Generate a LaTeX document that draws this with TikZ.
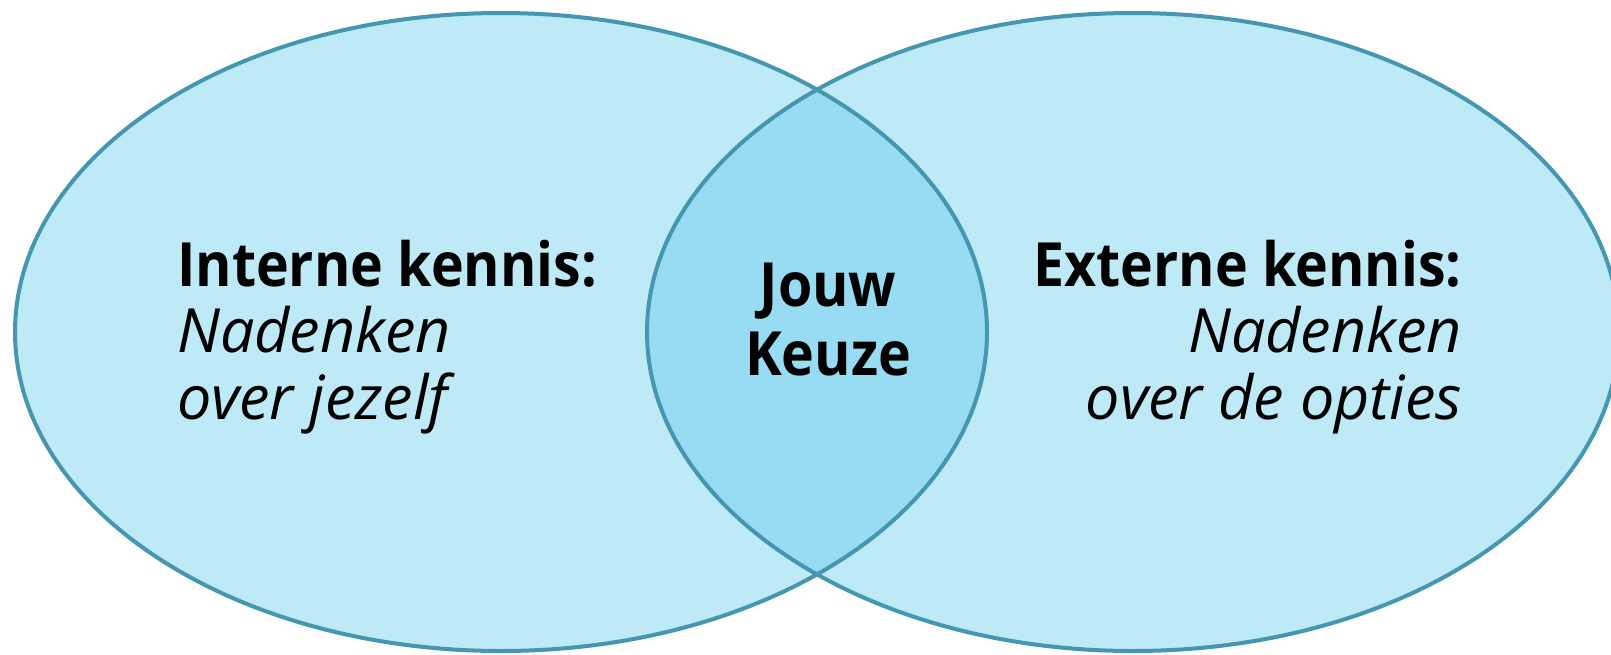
\documentclass[tikz,border=0pt]{standalone}
\usepackage{fontspec}
\setmainfont{Open Sans}
\newfontfamily\narrowsans[FakeStretch=0.91]{Open Sans}
\definecolor{lightfill}{RGB}{190,233,247}
\definecolor{midfill}{RGB}{151,220,242}
\definecolor{edgeblue}{RGB}{69,150,176}
\begin{document}
\begin{tikzpicture}[x=1pt,y=-1pt,
  venn/.style={x radius=486pt, y radius=319pt},
  outline/.style={draw=edgeblue, line width=4pt},
  txt/.style={inner sep=0pt, font=\fontsize{61}{66}\selectfont, text=black},
  head/.style={txt, font=\fontsize{61}{66}\selectfont\narrowsans\bfseries}]
\useasboundingbox (0,0) rectangle (1611,654);
\clip (0,0) rectangle (1611,654);
\coordinate (L) at (501,332);
\coordinate (R) at (1133,332);
\fill[lightfill] (L) ellipse [venn];
\fill[lightfill] (R) ellipse [venn];
\begin{scope}
  \clip (L) ellipse [venn];
  \fill[midfill] (R) ellipse [venn];
\end{scope}
\draw[outline] (L) ellipse [venn];
\draw[outline] (R) ellipse [venn];
% left texts
\node[head, anchor=base west] (l1) at (177,286) {Interne kennis:};
\node[txt, anchor=base west] (l2) at (177,352) {\itshape Nadenken};
\node[txt, anchor=base west] (l3) at (177,419) {\itshape over jezelf};
% center
\node[head, anchor=base] (c1) at (828,306) {Jouw};
\node[head, anchor=base] (c2) at (828,375) {Keuze};
% right texts
\node[head, anchor=base east] (r1) at (1462,286) {Externe kennis:};
\node[txt, anchor=base east] (r2) at (1462,352) {\itshape Nadenken};
\node[txt, anchor=base east] (r3) at (1462,419) {\itshape over de opties};
\end{tikzpicture}
\end{document}
